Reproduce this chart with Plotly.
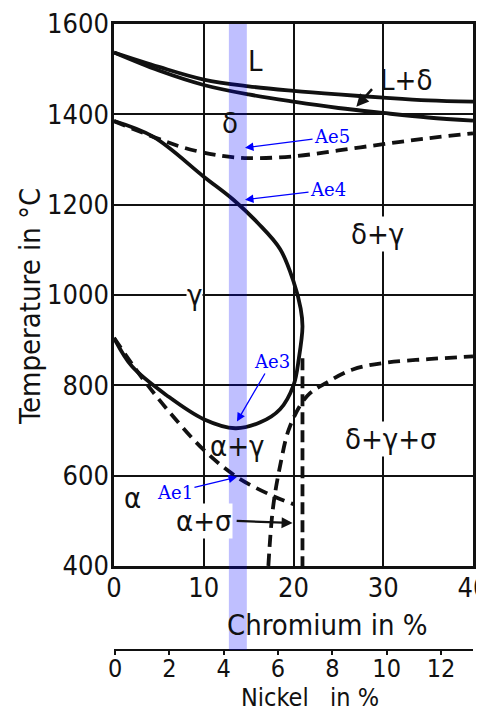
import plotly.graph_objects as go

# liquidus / solidus (Cr %, °C)
liq_cr = [0, 5, 10, 15, 20, 25, 30, 35, 40]
liq_t = [1537, 1505, 1477, 1462, 1452, 1444, 1437, 1431, 1428]
sol_cr = [0, 5, 10, 15, 20, 25, 30, 35, 40]
sol_t = [1537, 1497, 1465, 1444, 1428, 1414, 1403, 1393, 1386]

# gamma loop (solid)
gam_cr = [0, 4.4, 10, 13.3, 16, 18.5, 20, 20.8, 21, 20.6, 20, 18.5, 16.3, 13.5, 10, 6, 2, 0]
gam_t = [1385, 1350, 1262, 1211, 1160, 1102, 1030, 970, 930, 860, 800, 747, 718, 705, 725, 776, 842, 905]

# dashed lines
ae5_cr = [0, 4.4, 8, 12, 15, 20, 25, 30, 35, 40]
ae5_t = [1385, 1350, 1325, 1308, 1303, 1307, 1320, 1334, 1347, 1358]
ae1_cr = [0, 3, 6, 10, 13.7, 17.7, 20]
ae1_t = [905, 820, 745, 657, 597, 555, 537]
sig_cr = [17.2, 17.7, 18.5, 19.6, 21.5, 23.7, 26.6, 30.2, 35, 40]
sig_t = [400, 526, 621, 709, 776, 806, 835, 850, 858, 864]
vert_cr = [21, 21]
vert_t = [860, 400]

# phase field labels
lab_text = ["L", "L+δ", "δ", "δ+γ", "γ", "δ+γ+σ", "α+γ", "α", "α+σ"]
lab_cr = [15.8, 32.5, 12.9, 29.4, 9.0, 30.9, 13.8, 2.1, 10.0]
lab_t = [1518, 1476, 1381, 1134, 1000, 681, 665, 550, 500]
lab_bg = [False, False, False, True, True, True, False, False, True]

# Ae markers: text, head (Cr, T), text offset (px)
ae_text = ["Ae5", "Ae4", "Ae3", "Ae1"]
ae_cr = [14.6, 14.6, 13.7, 13.7]
ae_t = [1326, 1211, 720, 597]
ae_dx = [87, 83, 35, -62]
ae_dy = [-11, -10, -60, 15]

band_cr = [12.8, 14.8]
nickel_ticks = [0, 2, 4, 6, 8, 10, 12]
cr_ticks = [0, 10, 20, 30, 40]
t_ticks = [400, 600, 800, 1000, 1200, 1400, 1600]

FONT = "DejaVu Sans Condensed, DejaVu Sans, sans-serif"
BLK = "#111111"

fig = go.Figure()
solid = dict(color=BLK, width=3.8, shape="spline", smoothing=1.0)
dashed = dict(color=BLK, width=3.8, shape="spline", smoothing=1.0, dash="12px,7px")

fig.add_trace(go.Scatter(x=liq_cr, y=liq_t, mode="lines", line=solid))
fig.add_trace(go.Scatter(x=sol_cr, y=sol_t, mode="lines", line=solid))
fig.add_trace(go.Scatter(x=gam_cr, y=gam_t, mode="lines", line=solid))
fig.add_trace(go.Scatter(x=ae5_cr, y=ae5_t, mode="lines", line=dashed))
fig.add_trace(go.Scatter(x=ae1_cr, y=ae1_t, mode="lines", line=dashed))
fig.add_trace(go.Scatter(x=sig_cr, y=sig_t, mode="lines", line=dashed))
fig.add_trace(go.Scatter(x=vert_cr, y=vert_t, mode="lines",
                         line=dict(color=BLK, width=3.8, dash="12px,6px")))
# dummy trace so the nickel axis is drawn
fig.add_trace(go.Scatter(x=nickel_ticks, y=[1000] * len(nickel_ticks), xaxis="x2", yaxis="y",
                         mode="markers", marker=dict(opacity=0), hoverinfo="skip"))

# blue band
fig.add_shape(type="rect", xref="x", yref="paper", x0=band_cr[0], x1=band_cr[1], y0=0, y1=1,
              fillcolor="rgba(0,0,255,0.25)", line=dict(width=0), layer="above")

for t, x, y, bg in zip(lab_text, lab_cr, lab_t, lab_bg):
    fig.add_annotation(x=x, y=y, text=t, showarrow=False,
                       font=dict(family=FONT, size=29, color=BLK),
                       bgcolor="white" if bg else None, borderpad=0)

# black arrows
fig.add_annotation(x=27.0, y=1417, ax=28.9, ay=1459, axref="x", ayref="y", text="",
                   showarrow=True, arrowhead=2, arrowsize=1.0, arrowwidth=2.5, arrowcolor=BLK)
fig.add_annotation(x=19.9, y=495, ax=13.5, ay=500, axref="x", ayref="y", text="",
                   showarrow=True, arrowhead=2, arrowsize=1.0, arrowwidth=2.2, arrowcolor=BLK)

for t, x, y, dx, dy in zip(ae_text, ae_cr, ae_t, ae_dx, ae_dy):
    fig.add_annotation(x=x, y=y, text=t, ax=dx, ay=dy, showarrow=True,
                       arrowhead=2, arrowsize=1.3, arrowwidth=1.3, arrowcolor="#0000ff",
                       font=dict(family="DejaVu Serif, Liberation Serif, serif", size=18, color="#0000ff"))

# axis titles
title_font = dict(family=FONT, size=29, color=BLK)
fig.add_annotation(x=0.596, y=0.040, xref="paper", yref="paper", text="Chromium in %",
                   xanchor="center", yanchor="middle", showarrow=False, font=title_font)
fig.add_annotation(x=0.546, y=-0.1006, xref="paper", yref="paper", text="Nickel   in %",
                   xanchor="center", yanchor="bottom", showarrow=False, borderpad=0,
                   font=dict(family=FONT, size=25, color=BLK))
fig.add_annotation(x=-0.234, y=0.5495, xref="paper", yref="paper", text="Temperature in °C",
                   xanchor="center", yanchor="middle", textangle=-90, showarrow=False,
                   font=title_font)

# page body has an 8px margin, so the figure is sized/offset to fit the window
fig.update_layout(
    width=476, height=706,
    margin=dict(l=106, r=11, t=16, b=64),
    paper_bgcolor="white",
    plot_bgcolor="white",
    showlegend=False,
    font=dict(family=FONT, size=26, color=BLK),
    xaxis=dict(range=[0, 40], tickvals=cr_ticks, domain=[0, 1], anchor="y", automargin=False,
               showgrid=True, gridcolor=BLK, gridwidth=1.6, zeroline=False,
               showline=True, mirror=True, linecolor=BLK, linewidth=2.5,
               ticks="", ticklabelstandoff=-4, ticklabeloverflow="allow", tickfont=dict(size=27)),
    yaxis=dict(range=[400, 1600], tickvals=t_ticks, domain=[0.1342, 1], automargin=False,
               showgrid=True, gridcolor=BLK, gridwidth=1.6, zeroline=False,
               showline=True, mirror=True, linecolor=BLK, linewidth=2.5,
               ticks="", ticklabelstandoff=-3, ticklabeloverflow="allow", tickfont=dict(size=27)),
    xaxis2=dict(range=[-0.04, 13.18], tickvals=nickel_ticks, overlaying="x", automargin=False,
                anchor="free", position=0, side="bottom",
                showgrid=False, zeroline=False, showline=True, linecolor=BLK, linewidth=2,
                ticks="outside", ticklen=4, tickwidth=1.5, tickcolor=BLK,
                ticklabelstandoff=-8, tickfont=dict(size=25)),
)

fig.write_html("out.html")
